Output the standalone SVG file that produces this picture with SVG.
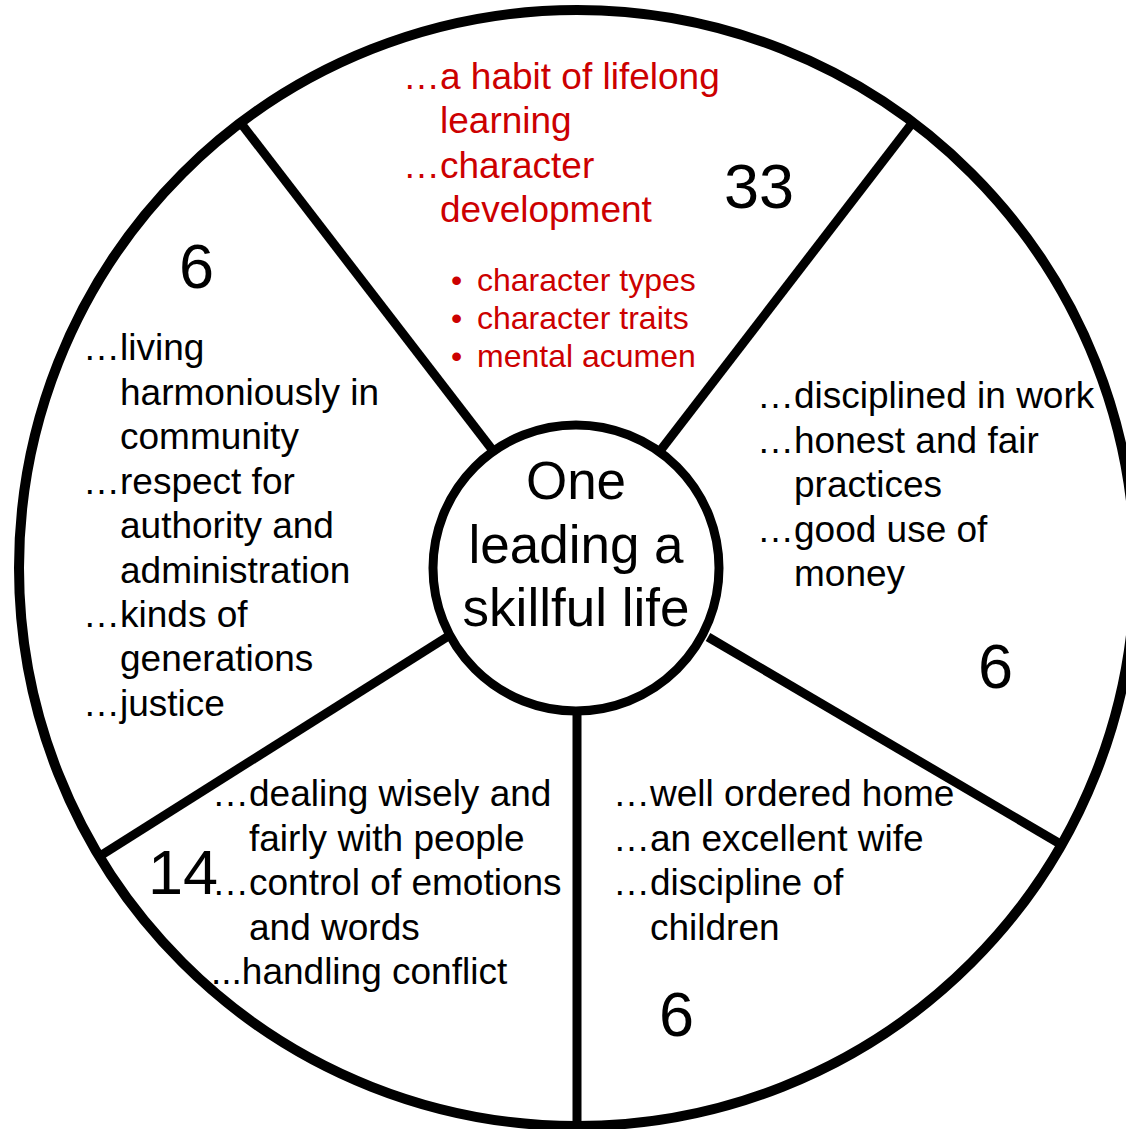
<svg xmlns="http://www.w3.org/2000/svg" width="1126" height="1129" viewBox="0 0 1126 1129">
<style>
  .ring { fill: #ffffff; stroke: #000000; stroke-width: 10; }
  .hub { fill: #ffffff; stroke: #000000; stroke-width: 9; }
  .spoke { stroke: #000000; stroke-width: 9; fill: none; }
  text { font-family: "Liberation Sans", Arial, sans-serif; }
  .t { font-size: 37px; fill: #000000; }
  .r { font-size: 37px; fill: #CC0000; }
  .b { font-size: 32px; fill: #CC0000; }
  .num { font-size: 63px; fill: #000000; }
  .ctr { font-size: 53px; fill: #000000; text-anchor: middle; }
</style>
<rect x="0" y="0" width="1126" height="1129" fill="#ffffff"/>
<g id="wheel">
  <circle class="ring" cx="577" cy="568" r="558"/>
</g>
<g id="connectors">
  <line class="spoke" x1="494" y1="452" x2="240" y2="122"/>
  <line class="spoke" x1="660" y1="451" x2="913" y2="122"/>
  <line class="spoke" x1="708" y1="637" x2="1062" y2="845"/>
  <line class="spoke" x1="577" y1="712" x2="577" y2="1135"/>
  <line class="spoke" x1="447" y1="637" x2="100" y2="856"/>
</g>
<g id="center">
  <circle class="hub" cx="576" cy="568" r="143"/>
  <text class="ctr" x="576" y="499">One</text>
  <text class="ctr" x="576" y="563">leading a</text>
  <text class="ctr" x="576" y="626">skillful life</text>
</g>
<g id="segment-top">
  <text class="r" x="403" y="89">…a habit of lifelong</text>
  <text class="r" x="440" y="133">learning</text>
  <text class="r" x="403" y="178">…character</text>
  <text class="r" x="440" y="222">development</text>
  <text class="b" x="451" y="291">•</text>
  <text class="b" x="477" y="291">character types</text>
  <text class="b" x="451" y="329">•</text>
  <text class="b" x="477" y="329">character traits</text>
  <text class="b" x="451" y="367">•</text>
  <text class="b" x="477" y="367">mental acumen</text>
  <text class="num" x="724" y="208">33</text>
</g>
<g id="segment-left">
  <text class="num" x="179" y="288">6</text>
  <text class="t" x="83" y="360">…living</text>
  <text class="t" x="120" y="405">harmoniously in</text>
  <text class="t" x="120" y="449">community</text>
  <text class="t" x="83" y="494">…respect for</text>
  <text class="t" x="120" y="538">authority and</text>
  <text class="t" x="120" y="583">administration</text>
  <text class="t" x="83" y="627">…kinds of</text>
  <text class="t" x="120" y="671">generations</text>
  <text class="t" x="83" y="716">…justice</text>
</g>
<g id="segment-right">
  <text class="t" x="757" y="408">…disciplined in work</text>
  <text class="t" x="757" y="452.5">…honest and fair</text>
  <text class="t" x="794" y="497">practices</text>
  <text class="t" x="757" y="541.5">…good use of</text>
  <text class="t" x="794" y="586">money</text>
  <text class="num" x="978" y="688">6</text>
</g>
<g id="segment-bottom-left">
  <text class="t" x="212" y="806">…dealing wisely and</text>
  <text class="t" x="249" y="850.5">fairly with people</text>
  <text class="num" x="148" y="894">14</text>
  <text class="t" x="212" y="895">…control of emotions</text>
  <text class="t" x="249" y="939.5">and words</text>
  <text class="t" x="211" y="984">...handling conflict</text>
</g>
<g id="segment-bottom-right">
  <text class="t" x="613" y="806">…well ordered home</text>
  <text class="t" x="613" y="850.5">…an excellent wife</text>
  <text class="t" x="613" y="895">…discipline of</text>
  <text class="t" x="650" y="939.5">children</text>
  <text class="num" x="659" y="1036">6</text>
</g>
</svg>
